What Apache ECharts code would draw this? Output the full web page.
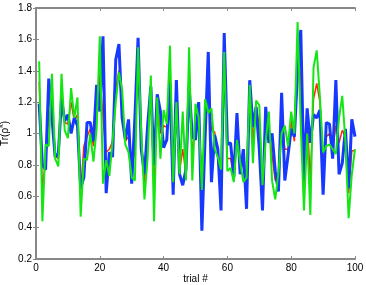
<!DOCTYPE html>
<html>
<head>
<meta charset="UTF-8">
<script src="https://cdn.jsdelivr.net/npm/echarts@6/dist/echarts.min.js"></script>
<style>
  html, body { margin: 0; padding: 0; background: #fff; }
  #main { width: 366px; height: 285px; }
</style>
</head>
<body>
<div id="main"></div>
<script>
// values, trials 1..100
var blueVals = [1.19,0.80,0.77,1.35,1.10,0.85,0.87,1.22,1.08,1.12,
  1.00,1.10,1.05,0.65,0.72,1.07,1.07,0.95,1.31,1.14,
  1.62,0.62,0.88,0.85,1.47,1.57,1.10,0.96,1.09,0.68,
  1.10,1.61,0.90,0.74,1.05,1.30,0.80,1.25,1.14,0.91,
  0.96,1.32,0.61,1.34,0.74,0.67,0.77,1.30,0.98,0.96,
  1.20,0.38,0.97,1.52,0.69,0.99,0.90,0.51,1.64,0.93,
  0.94,0.72,1.13,0.74,0.90,0.52,1.34,1.04,1.17,0.90,
  0.51,1.17,0.94,1.00,0.76,0.63,1.26,0.70,0.86,1.03,
  0.98,1.40,1.66,0.70,1.16,0.94,1.12,1.10,1.15,0.61,
  1.07,1.06,0.84,1.34,0.74,0.81,1.03,0.65,1.09,0.98];
var greenVals = [1.46,0.44,0.93,0.92,1.38,0.84,0.79,1.38,1.02,0.97,
  1.29,1.10,1.23,0.47,0.84,0.83,1.00,0.82,1.03,1.62,
  0.68,0.83,0.73,0.95,1.20,1.39,1.28,0.93,0.88,0.72,
  0.70,1.55,1.00,0.58,0.85,1.37,0.44,1.23,0.84,1.15,
  1.06,1.56,0.69,1.20,0.74,1.14,0.70,1.55,0.70,1.19,
  1.10,0.64,1.22,1.13,1.16,0.90,0.85,0.77,1.52,0.76,
  0.78,0.69,0.96,0.82,0.69,0.72,1.31,0.81,1.21,1.18,
  0.67,0.95,1.14,0.70,0.58,0.75,1.00,1.05,0.92,1.14,
  1.00,1.71,1.05,0.51,1.00,0.48,1.42,1.53,1.23,0.88,
  0.92,0.93,0.90,0.87,1.10,1.24,0.95,0.46,0.74,0.90];
var redVals = [1.33,0.65,0.82,1.10,1.20,0.86,0.84,1.25,1.07,1.06,
  1.20,1.08,1.12,0.62,0.92,0.98,1.03,0.92,1.12,1.38,
  1.10,0.88,0.90,0.95,1.28,1.40,1.18,0.95,0.98,0.80,
  0.88,1.55,0.95,0.68,0.95,1.30,0.62,1.22,1.00,1.05,
  1.04,1.40,0.66,1.25,0.76,0.90,0.74,1.42,0.86,1.06,
  1.14,0.62,1.08,1.30,1.02,1.01,0.88,0.68,1.55,0.84,
  0.84,0.72,1.00,0.78,0.82,0.65,1.32,0.95,1.18,1.05,
  0.62,1.06,1.05,0.86,0.70,0.72,1.10,0.90,0.90,1.08,
  0.95,1.50,1.35,0.62,1.10,0.70,1.22,1.32,1.20,0.80,
  0.98,1.00,0.90,1.05,0.94,1.02,0.98,0.62,0.89,0.89];

function pairs(vals) {
  return vals.map(function (v, i) { return [i + 1, v]; });
}

var boxColor = '#888888';
var font = 'Liberation Sans';

var chart = echarts.init(document.getElementById('main'));
chart.setOption({
  animation: false,
  backgroundColor: '#fff',
  grid: { left: 36, right: 11, top: 8, bottom: 26, containLabel: false, outerBoundsMode: 'none' },
  xAxis: [{
    type: 'value', min: 0, max: 100, interval: 20,
    name: 'trial #', nameLocation: 'middle', nameGap: 15, nameMoveOverlap: false,
    nameTextStyle: { color: '#000', fontSize: 10, fontFamily: font },
    axisLine: { lineStyle: { color: boxColor, width: 2 } },
    axisTick: { inside: true, length: 3, lineStyle: { color: boxColor } },
    axisLabel: { color: '#000', fontSize: 10, fontFamily: font, margin: 4 },
    splitLine: { show: false }
  }, {
    type: 'value', min: 0, max: 100, interval: 20, position: 'top',
    axisLine: { lineStyle: { color: boxColor, width: 2 } },
    axisTick: { inside: true, length: 3, lineStyle: { color: boxColor } },
    axisLabel: { show: false },
    splitLine: { show: false }
  }],
  yAxis: [{
    type: 'value', min: 0.2, max: 1.8, interval: 0.2,
    name: '{a|Tr(ρ}{b|k}{a|)}', nameLocation: 'middle', nameGap: 24, nameRotate: 90,
    nameMoveOverlap: false,
    nameTextStyle: {
      color: '#000', fontFamily: font,
      rich: {
        a: { fontSize: 10, fontFamily: font, color: '#000', lineHeight: 14 },
        b: { fontSize: 7, fontFamily: font, color: '#000', verticalAlign: 'top', lineHeight: 14 }
      }
    },
    axisLine: { lineStyle: { color: boxColor, width: 2 } },
    axisTick: { inside: true, length: 3, lineStyle: { color: boxColor } },
    axisLabel: {
      color: '#000', fontSize: 10, fontFamily: font, margin: 4,
      formatter: function (v) { return String(Math.round(v * 10) / 10); }
    },
    splitLine: { show: false }
  }, {
    type: 'value', min: 0.2, max: 1.8, interval: 0.2, position: 'right',
    axisLine: { lineStyle: { color: boxColor, width: 2 } },
    axisTick: { inside: true, length: 3, lineStyle: { color: boxColor } },
    axisLabel: { show: false },
    splitLine: { show: false }
  }],
  series: [
    {
      type: 'line', data: pairs(redVals), showSymbol: false, symbol: 'none',
      lineStyle: { color: '#ff2a00', width: 1.5 }, z: 2
    },
    {
      type: 'line', data: pairs(blueVals), showSymbol: false, symbol: 'none',
      lineStyle: { color: '#1638ff', width: 3 }, z: 3
    },
    {
      type: 'line', data: pairs(greenVals), showSymbol: false, symbol: 'none',
      lineStyle: { color: '#14e614', width: 2 }, z: 4
    }
  ]
});
</script>
</body>
</html>
